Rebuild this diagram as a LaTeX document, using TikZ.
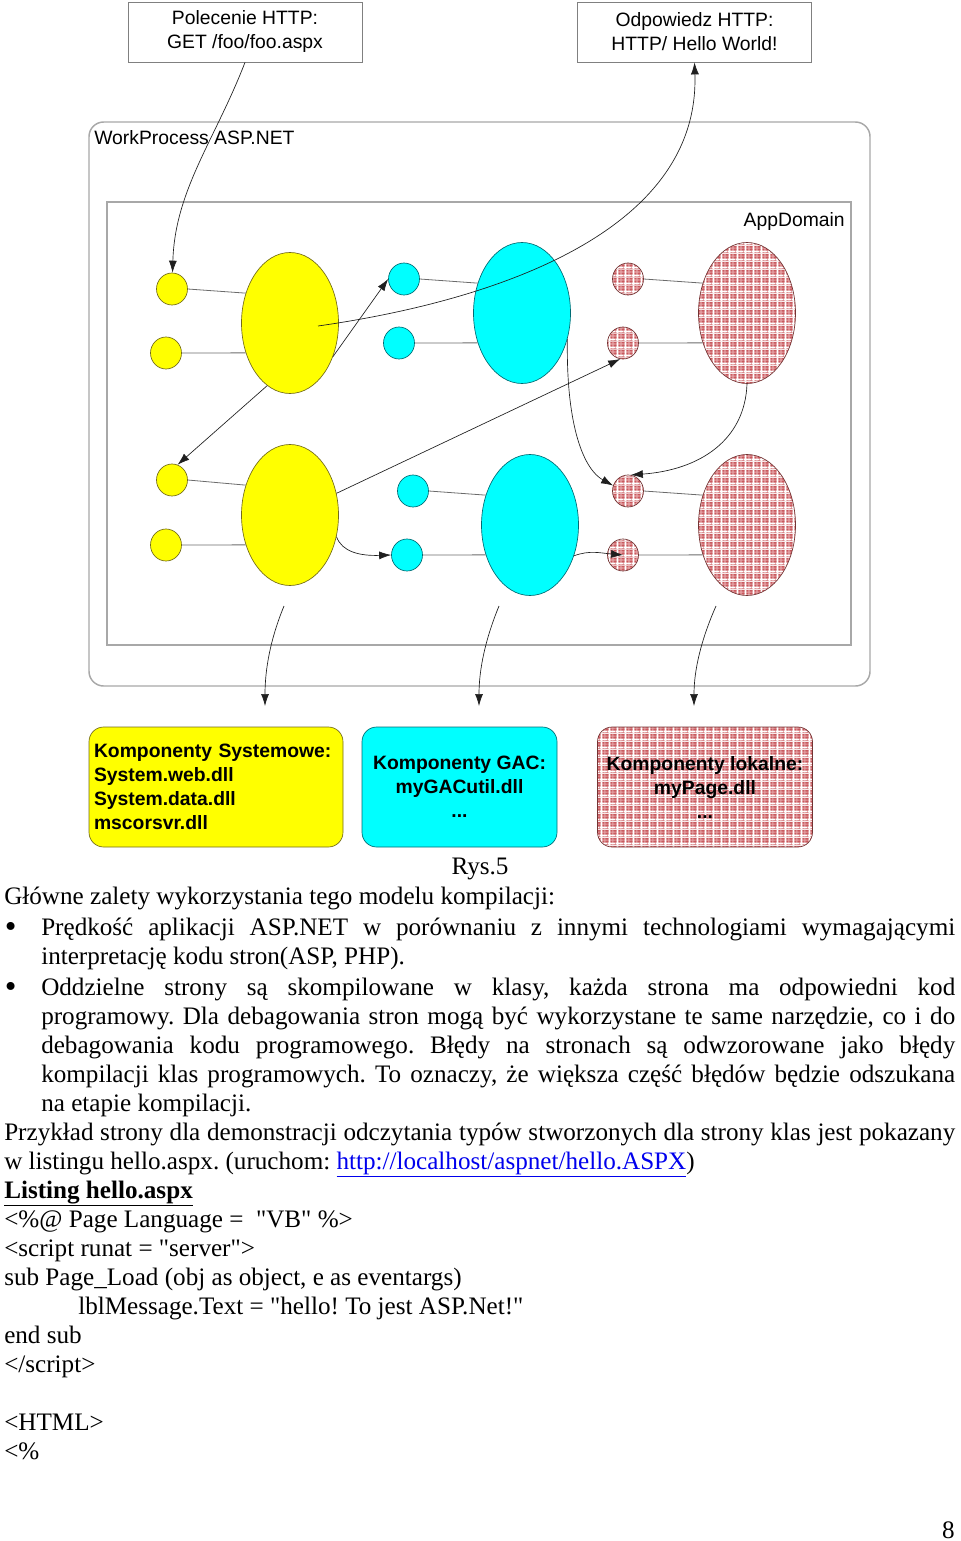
\documentclass[tikz,border=0pt]{standalone}
\usepackage{fontspec}
\setmainfont{Liberation Serif}[Ligatures=TeXOff]
\newfontfamily\arialfont{Liberation Sans}
\usetikzlibrary{arrows.meta, shapes.geometric, patterns}
\definecolor{sysfill}{rgb}{1, 1, 0}
\definecolor{sysline}{rgb}{0.45, 0.42, 0.1}
\definecolor{gacfill}{rgb}{0, 1, 1}
\definecolor{gacline}{rgb}{0, 0.42, 0.45}
\definecolor{locline}{rgb}{0.45, 0.2, 0.2}
\definecolor{plaidred}{rgb}{0.79, 0.35, 0.37}
\definecolor{plaidpale}{rgb}{0.9, 0.64, 0.65}
\definecolor{boxgray}{rgb}{0.5, 0.5, 0.5}
\definecolor{framegray}{rgb}{0.66, 0.66, 0.66}
\definecolor{linkgray}{rgb}{0.42, 0.42, 0.42}
\definecolor{flowgray}{rgb}{0.12, 0.12, 0.12}
\definecolor{linkblue}{rgb}{0, 0, 0.93}
\pgfdeclarepatterninherentlycolored{plaid}{\pgfpointorigin}{\pgfqpoint{6pt}{6pt}}{\pgfqpoint{6pt}{6pt}}{%
  \pgfsetfillcolor{plaidred}%
  \pgfpathrectangle{\pgfpointorigin}{\pgfqpoint{6pt}{6pt}}\pgfusepath{fill}%
  \pgfsetfillcolor{plaidpale}%
  \pgfpathrectangle{\pgfqpoint{3.6pt}{0pt}}{\pgfqpoint{1pt}{6pt}}%
  \pgfpathrectangle{\pgfqpoint{0pt}{3.6pt}}{\pgfqpoint{6pt}{1pt}}\pgfusepath{fill}%
  \pgfsetfillcolor{white}%
  \pgfpathrectangle{\pgfqpoint{0.6pt}{0pt}}{\pgfqpoint{1.3pt}{6pt}}%
  \pgfpathrectangle{\pgfqpoint{0pt}{0.6pt}}{\pgfqpoint{6pt}{1.3pt}}\pgfusepath{fill}%
}
\newcommand{\bulletpar}{\par\vspace{1.5pt}\hangindent=27.75pt\hangafter=0\leavevmode\llap{\lower2pt\hbox{\fontsize{25}{21}\selectfont\textbullet}\hspace{18.5pt}}}

\begin{document}
\begin{tikzpicture}[x=0.75pt, y=-0.75pt,
    every node/.style={font=\arialfont\fontsize{14.5}{18}\selectfont},
    part/.style={ellipse, inner sep=0pt, line width=0.5pt},
    big/.style={part, minimum width=72.75pt, minimum height=105.75pt},
    small/.style={part, minimum width=23.25pt, minimum height=24pt},
    sys/.style={draw=sysline, fill=sysfill},
    gac/.style={draw=gacline, fill=gacfill},
    loc/.style={draw=locline, pattern=plaid},
    link/.style={draw=linkgray, line width=0.6pt},
    flow/.style={draw=flowgray, line width=0.5pt, -{Latex[length=9pt, width=6pt]}},
    msgbox/.style={draw=boxgray, line width=0.6pt, minimum width=175.5pt, minimum height=45pt, align=center},
    kindbox/.style={rounded corners=11pt, minimum height=90pt, line width=0.5pt, font=\arialfont\bfseries\fontsize{14.5}{18}\selectfont},
    page/.style={inner sep=0pt, font=\fontsize{18.85}{21.75}\selectfont}]
    \useasboundingbox (0,0) rectangle (960,1541);
    \node[msgbox] (req) at (245,32) {Polecenie HTTP:\\GET /foo/foo.aspx};
    \node[msgbox] (resp) at (694.5,32) {Odpowiedz HTTP:\\HTTP/ Hello World!};
    \draw[framegray, line width=1.1pt, rounded corners=11pt] (89,122) rectangle (870,686);
    \draw[framegray, line width=1.1pt] (107,202) rectangle (851,645);
    \node[anchor=base west, inner sep=0pt] (wp) at (94,145) {WorkProcess ASP.NET};
    \node[anchor=base east, inner sep=0pt] (ad) at (845,226) {AppDomain};
    \node[big, sys] (sys1) at (290,323) {};
    \node[small, sys] (sys1t) at (172,289) {};
    \node[small, sys] (sys1b) at (166,353) {};
    \node[big, gac] (gac1) at (522,313) {};
    \node[small, gac] (gac1t) at (404,279) {};
    \node[small, gac] (gac1b) at (399,343) {};
    \node[big, loc] (loc1) at (747,313) {};
    \node[small, loc] (loc1t) at (628,279) {};
    \node[small, loc] (loc1b) at (623,343) {};
    \node[big, sys] (sys2) at (290,515) {};
    \node[small, sys] (sys2t) at (172,480) {};
    \node[small, sys] (sys2b) at (166,545) {};
    \node[big, gac] (gac2) at (530,525) {};
    \node[small, gac] (gac2t) at (413,491) {};
    \node[small, gac] (gac2b) at (407,555) {};
    \node[big, loc] (loc2) at (747,525) {};
    \node[small, loc] (loc2t) at (628,491) {};
    \node[small, loc] (loc2b) at (623,555) {};
    \draw[link] (sys1t.east) -- (sys1.146);
    \draw[link] (sys1b.east) -- (sys1.214);
    \draw[link] (gac1t.east) -- (gac1.146);
    \draw[link] (gac1b.east) -- (gac1.214);
    \draw[link] (loc1t.east) -- (loc1.146);
    \draw[link] (loc1b.east) -- (loc1.214);
    \draw[link] (sys2t.east) -- (sys2.146);
    \draw[link] (sys2b.east) -- (sys2.214);
    \draw[link] (gac2t.east) -- (gac2.146);
    \draw[link] (gac2b.east) -- (gac2.214);
    \draw[link] (loc2t.east) -- (loc2.146);
    \draw[link] (loc2b.east) -- (loc2.214);
    \coordinate (reply) at (318,326);
    \draw[flow] (req.south) .. controls (215,140) and (175,190) .. (sys1t);
    \draw[flow] (reply) .. controls (500,300) and (700,230) .. (resp.south);
    \draw[flow] (sys1.-38) -- (gac1t.west);
    \draw[flow] (sys1.250) -- (sys2t.70);
    \draw[flow] (sys2.25) -- (loc1b.260);
    \draw[flow] (gac1.-30) .. controls (566,430) and (585,470) .. (loc2t.160);
    \draw[flow] (loc1.south) .. controls (745,440) and (700,470) .. (loc2t.80);
    \draw[flow] (sys2.-25) .. controls (342,552) and (360,556) .. (gac2b.west);
    \draw[flow] (gac2.-35) .. controls (590,550) and (600,553) .. (loc2b.center);
    \coordinate (sysout) at (284,606);
    \coordinate (sysin) at (265,706);
    \coordinate (gacout) at (499,606);
    \coordinate (gacin) at (479,706);
    \coordinate (locout) at (716,606);
    \coordinate (locin) at (694,706);
    \draw[flow] (sysout) .. controls (270,640) and (265,670) .. (sysin);
    \draw[flow] (gacout) .. controls (485,640) and (479,670) .. (gacin);
    \draw[flow] (locout) .. controls (701,640) and (694,670) .. (locin);
    \node[kindbox, sys, minimum width=190.5pt, text width=183pt, inner xsep=3.75pt, align=left] (sysbox) at (216,787) {Komponenty Systemowe:\\System.web.dll\\System.data.dll\\mscorsvr.dll};
    \node[kindbox, gac, minimum width=146.25pt, align=center] (gacbox) at (459.5,787) {Komponenty GAC:\\myGACutil.dll\\...};
    \node[kindbox, loc, minimum width=161.25pt, align=center] (locbox) at (705,787) {Komponenty lokalne:\\myPage.dll\\...};
    \node[page, anchor=base] (rys) at (480,874) {Rys.5};
    \node[page, anchor=base west] (body) at (4,904) {\begin{minipage}[t]{713.25pt}
        \fontsize{18.85}{21.75}\selectfont\frenchspacing\tolerance=9999\hyphenpenalty=10000
        Główne zalety wykorzystania tego modelu kompilacji:
        \bulletpar Prędkość aplikacji ASP.NET w porównaniu z innymi technologiami wymagającymi\linebreak
        interpretację kodu stron(ASP, PHP).
        \bulletpar Oddzielne strony są skompilowane w klasy, każda strona ma odpowiedni kod\linebreak
        programowy. Dla debagowania stron mogą być wykorzystane te same narzędzie, co i do\linebreak
        debagowania kodu programowego. Błędy na stronach są odwzorowane jako błędy\linebreak
        kompilacji klas programowych. To oznaczy, że większa część błędów będzie odszukana\linebreak
        na etapie kompilacji.\par
        Przykład strony dla demonstracji odczytania typów stworzonych dla strony klas jest pokazany\linebreak
        w listingu hello.aspx. (uruchom: \textcolor{linkblue}{\underline{http://localhost/aspnet/hello.ASPX}})\par
        \textbf{\underline{Listing hello.aspx}}\par
        <\%@ Page Language = \ "VB" \%>\par
        <script runat = "server">\par
        sub Page\_Load (obj as object, e as eventargs)\par
        \hspace*{55.5pt}lblMessage.Text = "hello! To jest ASP.Net!"\par
        end sub\par
        </script>\par
        \mbox{}\par
        <HTML>\par
        <\%
    \end{minipage}};
    \node[page, anchor=base east] (pagenum) at (955,1538) {8};
\end{tikzpicture}
\end{document}
